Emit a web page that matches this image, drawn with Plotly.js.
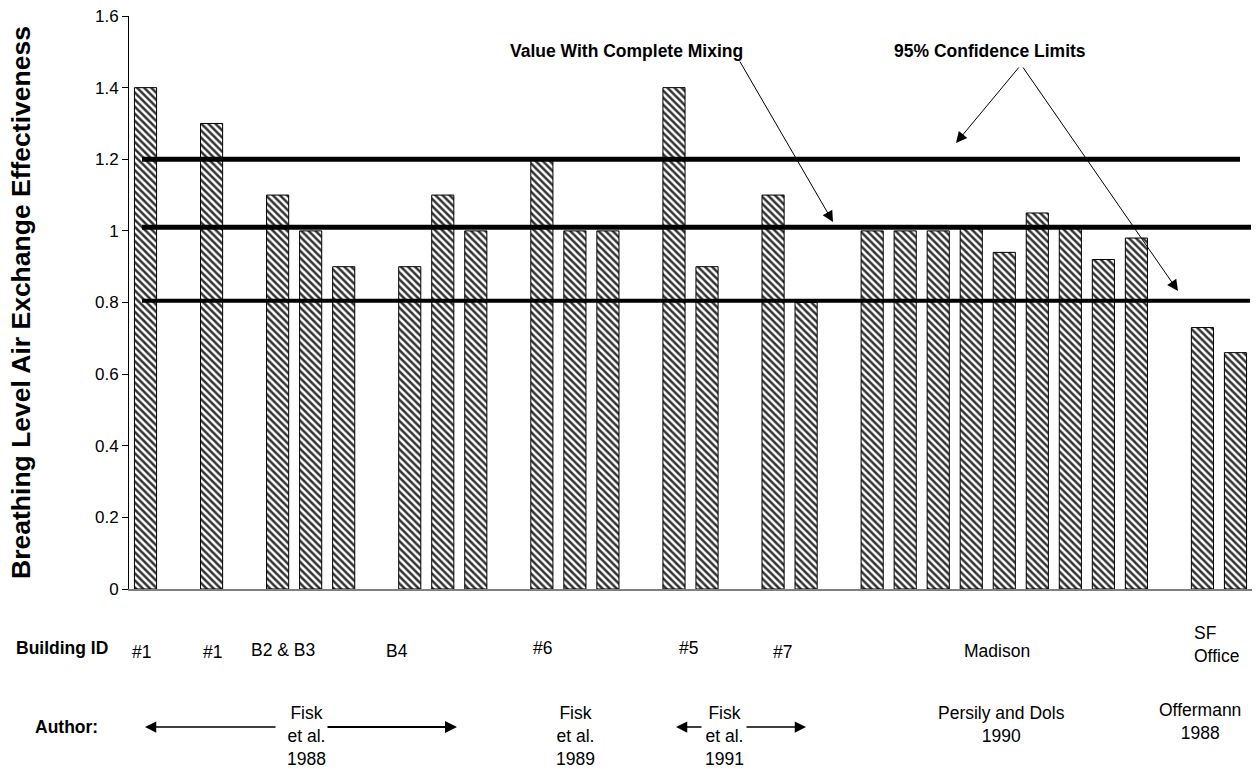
<!DOCTYPE html>
<html>
<head>
<meta charset="utf-8">
<script src="https://cdn.plot.ly/plotly-3.0.1.min.js"></script>
<style>html,body{margin:0;padding:0;background:#fff;}#chart{width:1257px;height:769px;}</style>
</head>
<body>
<div id="chart"></div>
<script>
// Category slots (0..33); empty slots are the gaps between building groups
const slots = [0, 2, 4, 5, 6, 8, 9, 10, 12, 13, 14, 16, 17, 19, 20, 22, 23, 24, 25, 26, 27, 28, 29, 30, 32, 33];
const values = [1.4, 1.3, 1.1, 1.0, 0.9, 0.9, 1.1, 1.0, 1.2, 1.0, 1.0, 1.4, 0.9, 1.1, 0.8,
                1.0, 1.0, 1.0, 1.01, 0.94, 1.05, 1.01, 0.92, 0.98, 0.73, 0.66];
const confidenceLimits = [1.2, 0.805];
const completeMixing = [1.01];
const yTicks = [0, 0.2, 0.4, 0.6, 0.8, 1, 1.2, 1.4, 1.6];
const buildingLabels = ['#1', '#1', 'B2 & B3', 'B4', '#6', '#5', '#7', 'Madison', 'SF<br>Office'];
const authorLabels = ['Fisk<br>et al.<br>1988', 'Fisk<br>et al.<br>1989', 'Fisk<br>et al.<br>1991', 'Persily and Dols<br>1990', 'Offermann<br>1988'];

const FONT = 'Liberation Sans, Arial, sans-serif';
const W = 1257, H = 769, L = 129, R = 5, T = 16, B = 180;
const pw = W - L - R, ph = H - T - B;
const px = x => (x - L) / pw;
const py = y => (H - B - y) / ph;

// label positions (pixels): [x, y, xanchor]
const buildingPos = [[141, 652, 'center'], [212, 652, 'center'], [283, 650, 'center'], [397, 651, 'center'],
  [542, 648, 'center'], [688, 648, 'center'], [782, 652, 'center'], [997, 651, 'center'], [1192, 644, 'left']];
const authorPos = [[306, 736], [575, 736], [724, 736], [1001, 724], [1200, 721]];

const annotations = [];
buildingLabels.forEach((t, i) => annotations.push({
  xref: 'paper', yref: 'paper', x: px(buildingPos[i][0]), y: py(buildingPos[i][1]),
  text: t, showarrow: false, font: {family: FONT, size: 17.5, color: '#000'},
  xanchor: buildingPos[i][2], yanchor: 'middle', align: buildingPos[i][2] === 'left' ? 'left' : 'center'
}));
authorLabels.forEach((t, i) => annotations.push({
  xref: 'paper', yref: 'paper', x: px(authorPos[i][0]), y: py(authorPos[i][1]),
  text: t, showarrow: false, font: {family: FONT, size: 17.5, color: '#000'}, xanchor: 'center', yanchor: 'middle'
}));
annotations.push({xref: 'paper', yref: 'paper', x: px(62), y: py(648), text: '<b>Building ID</b>', showarrow: false,
  font: {family: FONT, size: 17.5, color: '#000'}, xanchor: 'center', yanchor: 'middle'});
annotations.push({xref: 'paper', yref: 'paper', x: px(66), y: py(727), text: '<b>Author:</b>', showarrow: false,
  font: {family: FONT, size: 17.5, color: '#000'}, xanchor: 'center', yanchor: 'middle'});
annotations.push({xref: 'paper', yref: 'paper', x: px(626), y: py(51), text: '<b>Value With Complete Mixing</b>', showarrow: false,
  font: {family: FONT, size: 17.5, color: '#000'}, xanchor: 'center', yanchor: 'middle'});
annotations.push({xref: 'paper', yref: 'paper', x: px(990), y: py(51), text: '<b>95% Confidence Limits</b>', showarrow: false,
  font: {family: FONT, size: 17.5, color: '#000'}, xanchor: 'center', yanchor: 'middle'});

// arrows: [tailX, tailY, headX, headY, width, size]
const arrows = [
  [739, 60, 833, 222, 1, 2.2],
  [1020, 66, 956, 143, 1, 2.2],
  [1022, 66, 1178, 291, 1, 2.2],
  [277, 727, 145, 727, 1.5, 1.5],
  [326, 727, 457, 727, 2, 1.2],
  [703, 727, 676, 727, 1.5, 1.5],
  [745, 727, 806, 727, 1.5, 1.5]
];
arrows.forEach(a => annotations.push({
  xref: 'paper', yref: 'paper', x: px(a[2]), y: py(a[3]), ax: a[0] - a[2], ay: a[1] - a[3],
  text: '', showarrow: true, arrowhead: 2, arrowsize: a[5], arrowwidth: a[4], arrowcolor: '#000', standoff: 0, startstandoff: 0
}));

const shapes = [];
confidenceLimits.forEach((v, i) => shapes.push({
  type: 'line', xref: 'paper', yref: 'y', x0: px(142), x1: px(i === 0 ? 1240 : 1250), y0: v, y1: v,
  line: {color: '#000', width: i === 0 ? 5 : 4}
}));
completeMixing.forEach(v => shapes.push({
  type: 'line', xref: 'paper', yref: 'y', x0: px(142), x1: px(1251), y0: v, y1: v,
  line: {color: '#000', width: 5}
}));

const trace = {
  type: 'bar', x: slots, y: values,
  marker: {
    color: '#fff',
    line: {color: '#000', width: 1},
    pattern: {shape: '\\', fgcolor: '#333', bgcolor: '#fff', size: 5, solidity: 0.5, fillmode: 'replace'}
  },
  hoverinfo: 'y'
};

const layout = {
  width: W, height: H,
  margin: {l: L, r: R, t: T, b: B, pad: 0},
  paper_bgcolor: '#fff', plot_bgcolor: '#fff',
  showlegend: false,
  bargap: 0.33,
  font: {family: FONT, color: '#000'},
  xaxis: {range: [-0.5, 33.5], showline: true, linecolor: '#808080', linewidth: 2,
    showticklabels: false, ticks: '', showgrid: false, zeroline: false, fixedrange: true},
  yaxis: {range: [0, 1.6], tickvals: yTicks, ticks: 'outside', ticklen: 6, tickcolor: '#000', tickwidth: 1,
    showline: true, linecolor: '#000', linewidth: 1, showgrid: false, zeroline: false,
    tickfont: {family: FONT, size: 17, color: '#000'},
    title: {text: '<b>Breathing Level Air Exchange Effectiveness</b>', font: {family: FONT, size: 26.5, color: '#000'}, standoff: 56}},
  shapes: shapes,
  annotations: annotations
};

Plotly.newPlot('chart', [trace], layout, {staticPlot: true, displayModeBar: false});
</script>
</body>
</html>
